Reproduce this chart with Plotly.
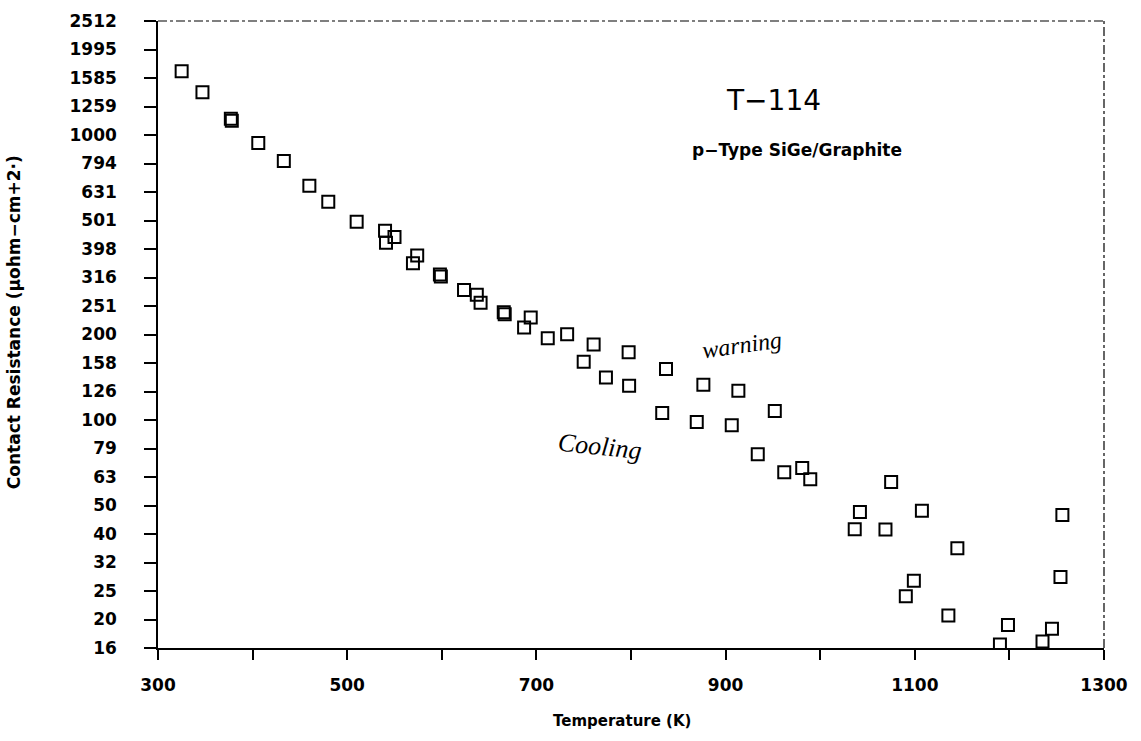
import plotly.graph_objects as go

# ---- data ----
temperature_K = [325, 347, 377, 378, 406, 433, 460, 480, 510, 540, 541, 550,
                 569.5, 574, 598, 599, 623.5, 637, 641, 665.5, 666.5, 687, 694,
                 712, 732.5, 750, 760.5, 773.5, 797.5, 798, 833, 837, 869.5,
                 876.5, 906.5, 913.5, 934, 952, 962, 981, 989.5, 1036.5, 1042,
                 1069, 1075, 1090.5, 1099, 1107.5, 1135.5, 1145, 1190, 1198.5,
                 1235, 1245, 1254, 1256]
resistance = [1673, 1413, 1140, 1122, 938, 811, 663, 583, 496, 461, 419, 439,
              355, 378, 324, 319, 286, 275, 258, 239, 235, 211, 229,
              193.5, 200, 160, 184, 141, 173, 132, 105.8, 151, 98.4,
              133, 95.8, 126.6, 75.8, 107.6, 65.5, 67.9, 62.0, 41.4, 47.6,
              41.3, 60.6, 24.1, 27.3, 48.0, 20.6, 35.5, 16.3, 19.1,
              16.7, 18.5, 28.1, 46.4]

y_tick_text = ["16", "20", "25", "32", "40", "50", "63", "79", "100", "126",
               "158", "200", "251", "316", "398", "501", "631", "794", "1000",
               "1259", "1585", "1995", "2512"]
y_tick_vals = [10 ** (1.2 + 0.1 * i) for i in range(len(y_tick_text))]
x_tick_vals = [300, 400, 500, 600, 700, 800, 900, 1000, 1100, 1200, 1300]
x_tick_text = ["300", "", "500", "", "700", "", "900", "", "1100", "", "1300"]

FONT = "DejaVu Sans"

fig = go.Figure()
fig.add_trace(go.Scatter(
    x=temperature_K, y=resistance, mode="markers",
    marker=dict(symbol="square-open", size=12, color="black",
                line=dict(color="black", width=2)),
    showlegend=False, hoverinfo="x+y"))

fig.update_layout(
    width=1141, height=741, autosize=False,
    margin=dict(l=158, r=37, t=11, b=93),
    paper_bgcolor="white", plot_bgcolor="white",
    font=dict(family=FONT, color="black"),
    xaxis=dict(range=[300, 1300], tickvals=x_tick_vals, ticktext=x_tick_text,
               showgrid=False, zeroline=False, showline=True,
               linecolor="black", linewidth=1.5,
               ticks="outside", ticklen=10, tickwidth=1.5, tickcolor="black",
               ticklabelstandoff=11,
               tickfont=dict(family=FONT, size=17, color="black",
                             weight="bold")),
    yaxis=dict(type="log", range=[1.2, 3.4], tickvals=y_tick_vals,
               ticktext=y_tick_text,
               showgrid=False, zeroline=False, showline=True,
               linecolor="black", linewidth=1.5,
               ticks="outside", ticklen=12, tickwidth=1.5, tickcolor="black",
               ticklabelstandoff=24,
               tickfont=dict(family=FONT, size=17, color="black",
                             weight="bold")),
    shapes=[
        dict(type="line", xref="paper", yref="paper", x0=0, x1=1, y0=1, y1=1,
             line=dict(color="black", width=1.2, dash="dashdot")),
        dict(type="line", xref="paper", yref="paper", x0=1, x1=1, y0=0, y1=1,
             line=dict(color="black", width=1.2, dash="dashdot")),
    ],
    annotations=[
        dict(text="Temperature (K)", xref="paper", yref="paper",
             x=0.49, y=-0.116, showarrow=False, xanchor="center", yanchor="middle",
             font=dict(family=FONT, size=15, weight="bold")),
        dict(text="Contact Resistance (μohm−cm+2·)", xref="paper", yref="paper",
             x=-0.152, y=0.52, showarrow=False, textangle=-90,
             xanchor="center", yanchor="middle",
             font=dict(family=FONT, size=17, weight="bold")),
        dict(text="T−114", xref="paper", yref="paper", x=0.651, y=0.873,
             showarrow=False, xanchor="center", yanchor="middle",
             font=dict(family=FONT, size=28)),
        dict(text="p−Type SiGe/Graphite", xref="paper", yref="paper",
             x=0.675, y=0.794, showarrow=False, xanchor="center",
             yanchor="middle", font=dict(family=FONT, size=17, weight="bold")),
        dict(text="warning", xref="paper", yref="paper", x=0.617, y=0.4835,
             showarrow=False, textangle=-8, xanchor="center", yanchor="middle",
             font=dict(family="Liberation Serif", size=24, style="italic")),
        dict(text="Cooling", xref="paper", yref="paper", x=0.467, y=0.322,
             showarrow=False, textangle=6, xanchor="center", yanchor="middle",
             font=dict(family="Liberation Serif", size=26, style="italic")),
    ],
)

fig.write_html("out.html")
